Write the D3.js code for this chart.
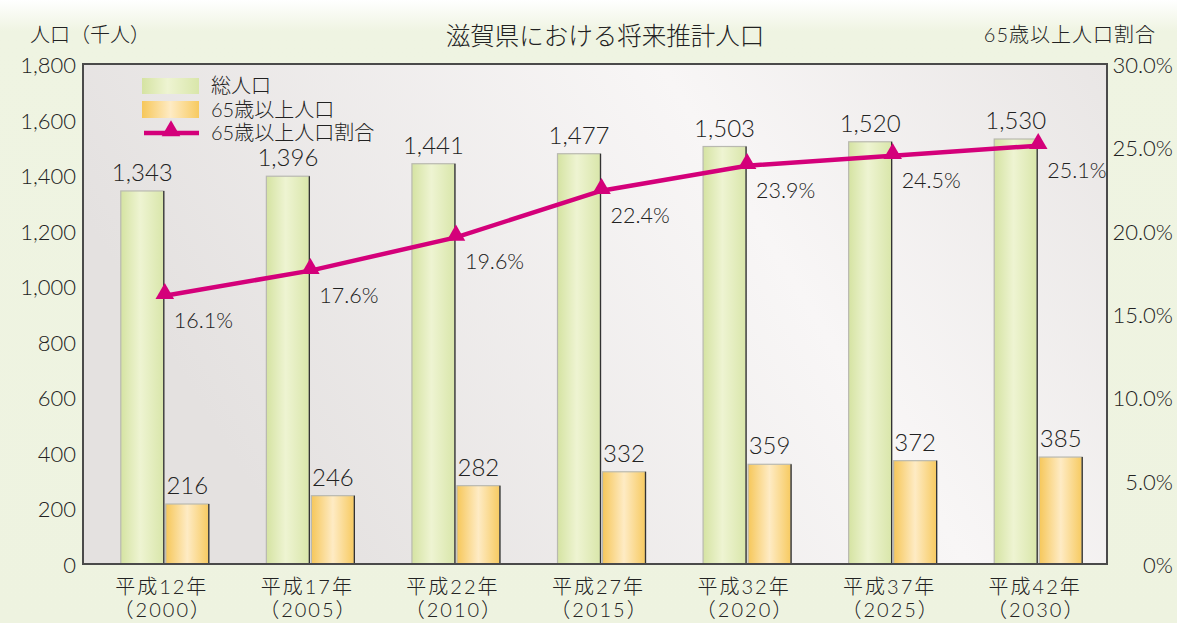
<!DOCTYPE html>
<html><head><meta charset="utf-8">
<script src="https://cdn.jsdelivr.net/npm/d3@7"></script>
<style>
html,body{margin:0;padding:0;background:#fff;}
svg{display:block;font-family:"Lato","Noto Sans CJK JP",sans-serif;font-weight:300;}
</style></head>
<body><svg id="c" width="1177" height="623"></svg>
<script>
const categories = ["平成12年","平成17年","平成22年","平成27年","平成32年","平成37年","平成42年"];
const years = ["（2000）","（2005）","（2010）","（2015）","（2020）","（2025）","（2030）"];
const totalPop = [1343,1396,1441,1477,1503,1520,1530];
const elderlyPop = [216,246,282,332,359,372,385];
const elderlyRatio = [16.1,17.6,19.6,22.4,23.9,24.5,25.1];
const leftTicks = [0,200,400,600,800,1000,1200,1400,1600,1800];
const rightTicks = [0,5,10,15,20,25,30];
const seriesNames = ["総人口","65歳以上人口","65歳以上人口割合"];

const svg = d3.select("#c");
const W = 1177, H = 623;
const plot = {l:83, t:64, r:1107, b:564};
const ink = "#222";
const defs = svg.append("defs");

const bgG = defs.append("linearGradient").attr("id","bg").attr("x1",0).attr("y1",0).attr("x2",0).attr("y2",1);
bgG.append("stop").attr("offset","0").attr("stop-color","#ffffff");
bgG.append("stop").attr("offset","0.05").attr("stop-color","#eff4e2");
bgG.append("stop").attr("offset","1").attr("stop-color","#eef3e0");

const plotG = defs.append("linearGradient").attr("id","pg").attr("x1",0).attr("y1",0.3).attr("x2",1).attr("y2",0);
plotG.append("stop").attr("offset","0").attr("stop-color","#e4e1e0");
plotG.append("stop").attr("offset","0.6").attr("stop-color","#f8f6f6");
plotG.append("stop").attr("offset","1").attr("stop-color","#e9e6e5");

const gG = defs.append("linearGradient").attr("id","gg").attr("x1",0).attr("y1",0).attr("x2",1).attr("y2",0);
gG.append("stop").attr("offset","0").attr("stop-color","#d5e3a2");
gG.append("stop").attr("offset","0.45").attr("stop-color","#eef4d2");
gG.append("stop").attr("offset","1").attr("stop-color","#d9e6aa");

const oG = defs.append("linearGradient").attr("id","og").attr("x1",0).attr("y1",0).attr("x2",1).attr("y2",0);
oG.append("stop").attr("offset","0").attr("stop-color","#f6c75a");
oG.append("stop").attr("offset","0.5").attr("stop-color","#feebc4");
oG.append("stop").attr("offset","1").attr("stop-color","#f7ca60");

svg.append("rect").attr("x",0).attr("y",0).attr("width",W).attr("height",H).attr("fill","url(#bg)");

const y = d3.scaleLinear().domain([0,1800]).range([plot.b, plot.t]);
const yr = d3.scaleLinear().domain([0,30]).range([plot.b, plot.t]);
const x = d3.scaleBand().domain(categories).range([92, 1111]).padding(0);
const barW = 43, gap = 2;
const cx = d => x(d) + x.bandwidth()/2;

svg.append("rect").attr("x",plot.l).attr("y",plot.t).attr("width",plot.r-plot.l).attr("height",plot.b-plot.t)
  .attr("fill","url(#pg)");

// Bars
const gBars = svg.append("g");
categories.forEach((c,i)=>{
  const c0 = cx(c);
  const x0 = c0 - gap/2 - barW, y0 = y(totalPop[i]);
  gBars.append("rect").attr("x",x0).attr("y",y0).attr("width",barW).attr("height",plot.b-y0)
    .attr("fill","url(#gg)").attr("stroke","#b9b9b0").attr("stroke-width",1.2);
  gBars.append("line").attr("x1",x0+barW).attr("x2",x0+barW).attr("y1",y0).attr("y2",plot.b).attr("stroke","#333").attr("stroke-width",1.3);
  gBars.append("text").attr("x",x0+barW/2).attr("y",y0-10).attr("text-anchor","middle")
    .attr("font-size",24).attr("fill",ink).text(d3.format(",")(totalPop[i]));
  const x1 = c0 + gap/2, y1 = y(elderlyPop[i]);
  gBars.append("rect").attr("x",x1).attr("y",y1).attr("width",barW).attr("height",plot.b-y1)
    .attr("fill","url(#og)").attr("stroke","#b9b9b0").attr("stroke-width",1.2);
  gBars.append("line").attr("x1",x1+barW).attr("x2",x1+barW).attr("y1",y1).attr("y2",plot.b).attr("stroke","#333").attr("stroke-width",1.3);
  gBars.append("text").attr("x",x1+barW/2).attr("y",y1-10).attr("text-anchor","middle")
    .attr("font-size",24).attr("fill",ink).text(elderlyPop[i]);
});

// frame
svg.append("rect").attr("x",plot.l).attr("y",plot.t).attr("width",plot.r-plot.l).attr("height",plot.b-plot.t)
  .attr("fill","none").attr("stroke","#4a4a4a").attr("stroke-width",2);

// Line
const line = d3.line().x((d,i)=>cx(categories[i])).y(d=>yr(d));
svg.append("path").datum(elderlyRatio).attr("d",line).attr("fill","none").attr("stroke","#d4007a").attr("stroke-width",4.5);
const tri = d3.symbol().type(d3.symbolTriangle).size(150);
elderlyRatio.forEach((v,i)=>{
  svg.append("path").attr("d",tri()).attr("transform",`translate(${cx(categories[i])},${yr(v)-2})`).attr("fill","#d4007a");
  svg.append("text").attr("x",cx(categories[i])+9).attr("y",yr(v)+32)
    .attr("font-size",21.5).attr("fill",ink).text(v.toFixed(1)+"%");
});

// Left axis labels
svg.append("g").selectAll("text").data(leftTicks).join("text")
  .attr("x",76).attr("y",d=>y(d)+9).attr("text-anchor","end").attr("font-size",22).attr("fill",ink)
  .text(d=>d3.format(",")(d));
// Right axis labels
svg.append("g").selectAll("text").data(rightTicks).join("text")
  .attr("x",1173).attr("y",d=>yr(d)+9).attr("text-anchor","end").attr("font-size",22).attr("fill",ink)
  .text(d=>d===0?"0%":d.toFixed(1)+"%");

// X labels
categories.forEach((c,i)=>{
  svg.append("text").attr("x",cx(c)-3).attr("y",594).attr("text-anchor","middle").attr("font-size",20)
    .attr("letter-spacing",2).attr("fill",ink).text(c);
  svg.append("text").attr("x",cx(c)-2).attr("y",617).attr("text-anchor","middle").attr("font-size",20)
    .attr("letter-spacing",2).attr("fill",ink).text(years[i]);
});

// Titles
svg.append("text").attr("x",605).attr("y",45).attr("text-anchor","middle").attr("font-size",24.5).attr("fill",ink).text("滋賀県における将来推計人口");
svg.append("text").attr("x",30).attr("y",42).attr("font-size",20).attr("fill",ink).text("人口（千人）");
svg.append("text").attr("x",1156).attr("y",42).attr("text-anchor","end").attr("font-size",20)
  .attr("letter-spacing",1).attr("fill",ink).text("65歳以上人口割合");

// Legend
const lg = svg.append("g");
lg.append("rect").attr("x",142).attr("y",78).attr("width",57).attr("height",16).attr("fill","url(#gg)");
lg.append("rect").attr("x",142).attr("y",101).attr("width",57).attr("height",17).attr("fill","url(#og)");
lg.append("line").attr("x1",144).attr("x2",199).attr("y1",133).attr("y2",133).attr("stroke","#d4007a").attr("stroke-width",4.5);
lg.append("path").attr("d",tri()).attr("transform","translate(171,131)").attr("fill","#d4007a");
seriesNames.forEach((n,i)=>{
  lg.append("text").attr("x",211).attr("y",93+i*23.5).attr("font-size",20).attr("fill",ink).text(n);
});
</script></body></html>
